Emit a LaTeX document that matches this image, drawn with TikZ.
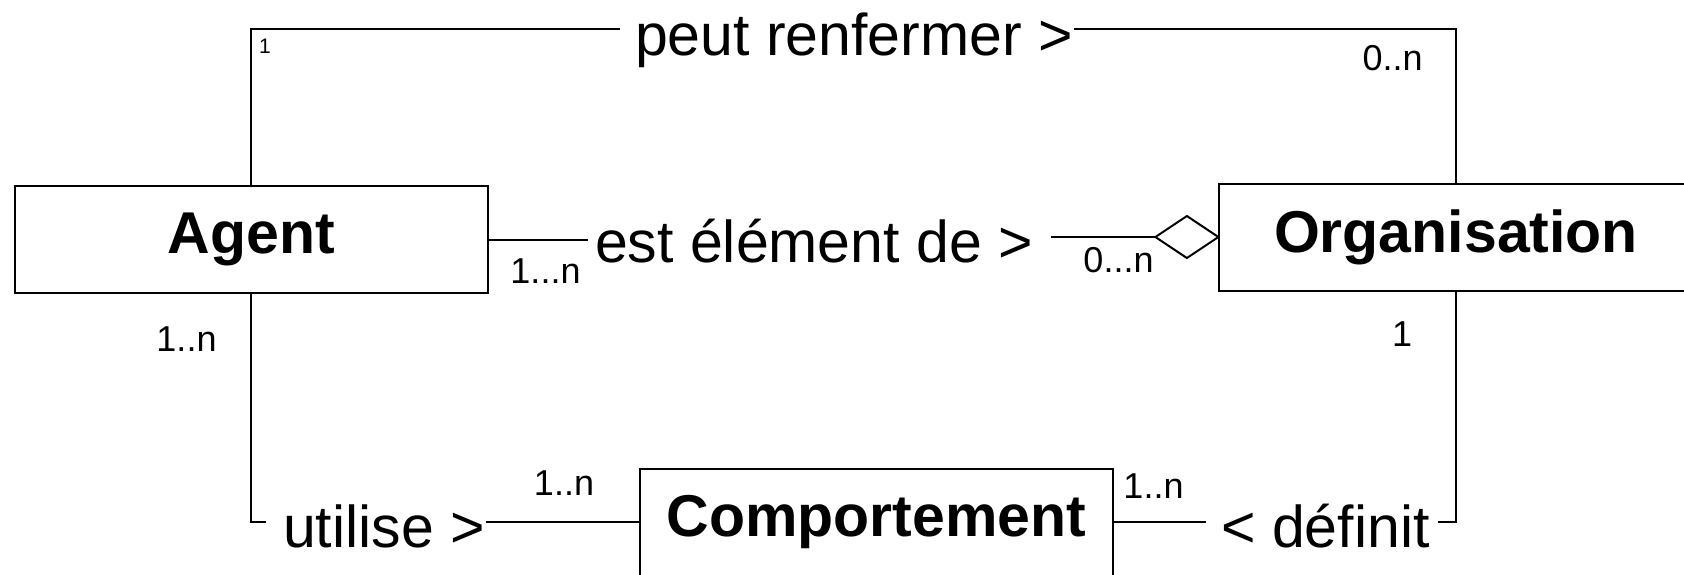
\documentclass[tikz,border=0pt]{standalone}
\usepackage{fontspec}
\setmainfont{Liberation Sans}
\begin{document}
\begin{tikzpicture}[x=0.5pt,y=-0.5pt,
  cls/.style={draw,line width=1pt,inner sep=0pt,minimum width=236.6pt,minimum height=53.5pt,
    font=\fontsize{29.5}{31}\selectfont\bfseries},
  assoc/.style={inner sep=0pt,anchor=base,font=\fontsize{29.5}{31}\selectfont},
  mult/.style={inner sep=0pt,anchor=base,font=\fontsize{18}{20}\selectfont},
  conn/.style={line width=1pt}]
\useasboundingbox (0,0) rectangle (1684,574);
\clip (0,0) rectangle (1684,574);
\fill[white] (0,0) rectangle (1684,574);
% classes
\node[cls] (agent) at (251.4,239.5) {Agent};
\node[cls] (org) at (1456,237) {Organisation};
\node[cls] (comp) at (876.5,522) {Comportement};
% association names
\node[assoc] (peut) at (854,55) {peut renfermer >};
\node[assoc] (est) at (814,262) {est élément de >};
\node[assoc] (util) at (384,547) {utilise >};
\node[assoc] (def) at (1325.5,547) {< définit};
% connector points
\coordinate (peutA) at (620,29);
\coordinate (peutB) at (1074,29);
\coordinate (estA) at (588,239.5);
\coordinate (estB) at (1051,237);
\coordinate (utA) at (266,522);
\coordinate (utB) at (486,522);
\coordinate (defA) at (1206,522);
\coordinate (defB) at (1438,522);
% peut renfermer
\draw[conn] (agent.north) |- (peutA);
\draw[conn] (peutB) -| (org.north);
% est element de (aggregation)
\draw[conn] (agent.east) -- (estA);
\draw[conn,fill=white] (org.west) -- ++(-31.5,-21) -- ++(-31.5,21) coordinate (diaL) -- ++(31.5,21) -- cycle;
\draw[conn] (estB) -- (diaL);
% utilise
\draw[conn] (agent.south) |- (utA);
\draw[conn] (utB) -- (utB -| comp.west);
% definit
\draw[conn] (comp.east |- defA) -- (defA);
\draw[conn] (defB) -| (org.south);
% multiplicities
\node[mult,font=\fontsize{10.5}{12}\selectfont] (m1) at (265,53) {1};
\node[mult] (m2) at (1392.5,70) {0..n};
\node[mult] (m3) at (545.5,283) {1...n};
\node[mult] (m4) at (1118.5,272) {0...n};
\node[mult] (m5) at (186.5,351) {1..n};
\node[mult] (m6) at (1402,346) {1};
\node[mult] (m7) at (564,495) {1..n};
\node[mult] (m8) at (1153.5,498) {1..n};
\end{tikzpicture}
\end{document}
